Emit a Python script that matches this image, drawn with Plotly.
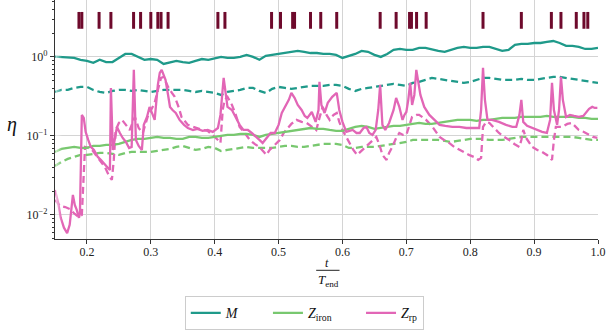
import plotly.graph_objects as go

# ---------------- data ----------------
t_grid = [round(0.15 + 0.01 * i, 2) for i in range(86)]

M_full = [1.01, 1.00, 1.00, 0.97, 0.92, 0.89, 0.84, 0.92, 0.86, 0.86,
          0.97, 1.09, 1.09, 1.00, 0.92, 0.94, 0.92, 0.815, 0.86, 0.89,
          0.86, 0.84, 0.89, 0.94, 0.92, 0.97, 1.00, 0.97, 0.97, 1.00,
          1.06, 1.00, 0.92, 1.03, 1.06, 1.09, 1.12, 1.16, 1.19, 1.16,
          1.12, 1.12, 1.09, 1.09, 1.06, 0.97, 1.03, 1.09, 1.19, 1.16,
          1.06, 1.00, 1.09, 1.23, 1.26, 1.23, 1.23, 1.30, 1.30, 1.23,
          1.19, 1.16, 1.23, 1.30, 1.34, 1.30, 1.30, 1.34, 1.34, 1.26,
          1.19, 1.23, 1.42, 1.46, 1.46, 1.50, 1.50, 1.55, 1.59, 1.50,
          1.38, 1.38, 1.34, 1.26, 1.26, 1.30]

M_dash = [0.360, 0.382, 0.382, 0.405, 0.417, 0.417, 0.382, 0.360, 0.350, 0.371,
          0.382, 0.382, 0.371, 0.382, 0.371, 0.360, 0.371, 0.382, 0.382, 0.382,
          0.382, 0.371, 0.360, 0.371, 0.360, 0.350, 0.330, 0.360, 0.371, 0.382,
          0.405, 0.405, 0.371, 0.350, 0.394, 0.417, 0.405, 0.394, 0.405, 0.417,
          0.430, 0.430, 0.430, 0.442, 0.442, 0.430, 0.394, 0.371, 0.394, 0.405,
          0.417, 0.430, 0.442, 0.455, 0.442, 0.430, 0.469, 0.483, 0.512, 0.542,
          0.527, 0.512, 0.497, 0.483, 0.469, 0.483, 0.512, 0.542, 0.542, 0.527,
          0.512, 0.512, 0.512, 0.527, 0.512, 0.512, 0.527, 0.542, 0.558, 0.558,
          0.542, 0.527, 0.512, 0.497, 0.483, 0.469]

Zfe_full = [0.0627, 0.0685, 0.0705, 0.0726, 0.0705, 0.0705, 0.0747, 0.0747, 0.0769, 0.0769,
            0.0792, 0.0839, 0.0890, 0.0916, 0.0916, 0.0943, 0.0971, 0.0943, 0.0943, 0.0916,
            0.0916, 0.0971, 0.0971, 0.0943, 0.0943, 0.0971, 0.100, 0.103, 0.103, 0.106,
            0.106, 0.103, 0.0971, 0.103, 0.106, 0.109, 0.112, 0.116, 0.119, 0.123,
            0.126, 0.123, 0.123, 0.119, 0.116, 0.116, 0.123, 0.130, 0.134, 0.130,
            0.123, 0.126, 0.130, 0.134, 0.134, 0.138, 0.142, 0.146, 0.142, 0.142,
            0.146, 0.150, 0.155, 0.160, 0.160, 0.160, 0.155, 0.160, 0.160, 0.164,
            0.169, 0.169, 0.169, 0.174, 0.174, 0.174, 0.174, 0.179, 0.174, 0.174,
            0.174, 0.174, 0.169, 0.169, 0.164, 0.164]

Zfe_dash = [0.0417, 0.0469, 0.0512, 0.0542, 0.0575, 0.0575, 0.0592, 0.0609, 0.0609, 0.0592,
            0.0575, 0.0609, 0.0627, 0.0627, 0.0627, 0.0627, 0.0646, 0.0665, 0.0685, 0.0726,
            0.0747, 0.0705, 0.0665, 0.0685, 0.0726, 0.0705, 0.0646, 0.0665, 0.0685, 0.0705,
            0.0726, 0.0705, 0.0705, 0.0705, 0.0705, 0.0726, 0.0747, 0.0747, 0.0726, 0.0726,
            0.0747, 0.0769, 0.0792, 0.0792, 0.0792, 0.0769, 0.0705, 0.0705, 0.0726, 0.0726,
            0.0726, 0.0747, 0.0769, 0.0792, 0.0815, 0.0839, 0.0890, 0.0890, 0.0890, 0.0890,
            0.0890, 0.0864, 0.0839, 0.0864, 0.0890, 0.0916, 0.0916, 0.0916, 0.0890, 0.0890,
            0.0890, 0.0916, 0.0943, 0.0971, 0.0971, 0.0971, 0.0971, 0.0971, 0.0971, 0.0971,
            0.0971, 0.0971, 0.0943, 0.0916, 0.0890, 0.0890]

Zrp_full_t = [0.150, 0.155, 0.159, 0.164, 0.169, 0.173, 0.178, 0.181, 0.184, 0.1875,
              0.189, 0.1906, 0.192, 0.195, 0.198, 0.202, 0.206, 0.211, 0.217, 0.222,
              0.228, 0.233, 0.236, 0.2375, 0.2406, 0.2438, 0.247, 0.2516, 0.256, 0.261,
              0.266, 0.270, 0.2734, 0.2766, 0.281, 0.286, 0.289, 0.294, 0.298, 0.303,
              0.306, 0.311, 0.314, 0.317, 0.320, 0.323, 0.327, 0.330, 0.334, 0.339,
              0.345, 0.352, 0.358, 0.366, 0.373, 0.381, 0.389, 0.397, 0.405, 0.409,
              0.414, 0.417, 0.420, 0.427, 0.433, 0.439, 0.445, 0.452, 0.458, 0.464,
              0.470, 0.475, 0.481, 0.4875, 0.494, 0.500, 0.505, 0.509, 0.516, 0.520,
              0.525, 0.530, 0.536, 0.541, 0.545, 0.552, 0.558, 0.5625, 0.564, 0.567,
              0.572, 0.577, 0.584, 0.591, 0.595, 0.600, 0.606, 0.611, 0.616, 0.622,
              0.627, 0.633, 0.6375, 0.642, 0.647, 0.652, 0.656, 0.659, 0.6625, 0.667,
              0.673, 0.680, 0.684, 0.689, 0.694, 0.697, 0.700, 0.703, 0.706, 0.709,
              0.7125, 0.7156, 0.719, 0.722, 0.728, 0.736, 0.744, 0.752, 0.761, 0.772,
              0.783, 0.794, 0.805, 0.814, 0.817, 0.820, 0.823, 0.827, 0.834, 0.845,
              0.856, 0.866, 0.872, 0.877, 0.880, 0.883, 0.889, 0.897, 0.905, 0.9125,
              0.920, 0.925, 0.928, 0.931, 0.936, 0.939, 0.942, 0.945, 0.950, 0.956,
              0.9625, 0.970, 0.977, 0.981, 0.986, 0.991, 0.995, 0.999]
Zrp_full = [0.0207, 0.0142, 0.0092, 0.0069, 0.0059, 0.0075, 0.0179, 0.0134, 0.0116, 0.0092,
            0.0103, 0.119, 0.1845, 0.169, 0.1124, 0.089, 0.0726, 0.0665, 0.0542, 0.0497,
            0.043, 0.0394, 0.0371, 0.405, 0.0665, 0.089, 0.130, 0.109, 0.0943, 0.0839,
            0.0705, 0.0726, 0.685, 0.089, 0.0747, 0.0665, 0.138, 0.174, 0.233, 0.1845,
            0.1595, 0.442, 0.627, 0.685, 0.592, 0.512, 0.330, 0.233, 0.213, 0.195,
            0.1595, 0.138, 0.126, 0.119, 0.1227, 0.1157, 0.119, 0.1124, 0.126, 0.1845,
            0.542, 0.330, 0.233, 0.213, 0.174, 0.138, 0.119, 0.119, 0.109, 0.0971,
            0.089, 0.0815, 0.0943, 0.109, 0.109, 0.138, 0.195, 0.226, 0.286, 0.350,
            0.303, 0.247, 0.213, 0.179, 0.169, 0.201, 0.1505, 0.213, 0.483, 0.247,
            0.195, 0.262, 0.312, 0.350, 0.213, 0.1505, 0.1124, 0.1157, 0.119, 0.109,
            0.109, 0.126, 0.130, 0.109, 0.103, 0.119, 0.213, 0.442, 0.138, 0.119,
            0.146, 0.213, 0.303, 0.233, 0.1595, 0.1845, 0.201, 0.286, 0.469, 0.247,
            0.330, 0.685, 0.442, 0.330, 0.233, 0.1845, 0.1595, 0.138, 0.134, 0.130,
            0.130, 0.126, 0.126, 0.126, 0.213, 0.726, 0.286, 0.1595, 0.1595, 0.1505,
            0.138, 0.130, 0.130, 0.1845, 0.286, 0.1505, 0.134, 0.126, 0.119, 0.1124,
            0.109, 0.1595, 0.469, 0.213, 0.138, 0.213, 0.558, 0.286, 0.174, 0.1845,
            0.179, 0.174, 0.179, 0.195, 0.220, 0.233, 0.226, 0.226]

Zrp_dash_t = [0.150, 0.158, 0.166, 0.173, 0.181, 0.1875, 0.192, 0.194, 0.197, 0.202,
              0.208, 0.214, 0.220, 0.228, 0.234, 0.239, 0.242, 0.245, 0.250, 0.255,
              0.261, 0.267, 0.275, 0.281, 0.2875, 0.295, 0.302, 0.306, 0.311, 0.316,
              0.320, 0.323, 0.327, 0.333, 0.3375, 0.344, 0.348, 0.358, 0.366, 0.373,
              0.381, 0.389, 0.395, 0.400, 0.405, 0.409, 0.4125, 0.4156, 0.420, 0.427,
              0.433, 0.439, 0.447, 0.455, 0.4625, 0.470, 0.477, 0.481, 0.486, 0.491,
              0.497, 0.502, 0.508, 0.5125, 0.520, 0.528, 0.536, 0.544, 0.552, 0.559,
              0.564, 0.569, 0.575, 0.580, 0.586, 0.591, 0.595, 0.600, 0.606, 0.611,
              0.617, 0.623, 0.631, 0.6375, 0.642, 0.648, 0.653, 0.658, 0.6625, 0.669,
              0.673, 0.678, 0.684, 0.689, 0.695, 0.700, 0.705, 0.709, 0.716, 0.720,
              0.727, 0.731, 0.741, 0.752, 0.759, 0.767, 0.775, 0.783, 0.791, 0.798,
              0.806, 0.8125, 0.817, 0.820, 0.825, 0.830, 0.8375, 0.845, 0.853, 0.861,
              0.869, 0.877, 0.880, 0.883, 0.8875, 0.897, 0.905, 0.9125, 0.920, 0.928,
              0.931, 0.934, 0.944, 0.952, 0.959, 0.966, 0.970, 0.978, 0.986, 0.992,
              0.999]
Zrp_dash = [0.0155, 0.0130, 0.0126, 0.0119, 0.0103, 0.0094, 0.0100, 0.0207, 0.0726, 0.0705,
            0.0665, 0.0575, 0.0497, 0.0405, 0.0321, 0.0277, 0.0497, 0.119, 0.146, 0.1595,
            0.138, 0.119, 0.174, 0.126, 0.109, 0.174, 0.226, 0.262, 0.382, 0.542,
            0.558, 0.483, 0.417, 0.350, 0.312, 0.226, 0.174, 0.138, 0.130, 0.126,
            0.119, 0.1157, 0.106, 0.0971, 0.089, 0.0815, 0.213, 0.286, 0.312, 0.247,
            0.1845, 0.130, 0.109, 0.089, 0.0792, 0.0726, 0.0627, 0.0575, 0.0665, 0.0726,
            0.0815, 0.089, 0.109, 0.119, 0.142, 0.1595, 0.1505, 0.146, 0.130, 0.119,
            0.169, 0.233, 0.1845, 0.1595, 0.1845, 0.195, 0.1505, 0.119, 0.0971, 0.0815,
            0.0665, 0.0575, 0.0665, 0.0747, 0.0815, 0.089, 0.0971, 0.0769, 0.0575, 0.0497,
            0.0609, 0.0726, 0.0943, 0.109, 0.103, 0.103, 0.138, 0.174, 0.1845, 0.1845,
            0.169, 0.1595, 0.130, 0.0971, 0.089, 0.0815, 0.0726, 0.0665, 0.0609, 0.0575,
            0.0542, 0.0497, 0.0527, 0.130, 0.1505, 0.146, 0.126, 0.109, 0.0971, 0.089,
            0.0792, 0.0726, 0.089, 0.119, 0.0943, 0.0726, 0.0665, 0.0627, 0.0575, 0.0497,
            0.089, 0.130, 0.130, 0.142, 0.146, 0.130, 0.119, 0.1124, 0.103, 0.0971,
            0.0943]

event_t = [0.1875, 0.192, 0.219, 0.2375, 0.273, 0.284, 0.300, 0.311, 0.316, 0.327,
           0.405, 0.416, 0.489, 0.503, 0.522, 0.525, 0.550, 0.566, 0.591, 0.659,
           0.684, 0.705, 0.708, 0.716, 0.731, 0.820, 0.880, 0.927, 0.942, 0.966,
           0.978, 0.984]
event_level = 2.9

x_ticks = [0.2, 0.3, 0.4, 0.5, 0.6, 0.7, 0.8, 0.9, 1.0]
x_ticklabels = ["0.2", "0.3", "0.4", "0.5", "0.6", "0.7", "0.8", "0.9", "1.0"]
y_ticks = [0.01, 0.1, 1.0]
y_ticklabels = ["10<sup>\u22122</sup>", "10<sup>\u22121</sup>", "10<sup>0</sup>"]
y_minor = [m * 10.0 ** e for e in (-3, -2, -1, 0) for m in range(2, 10)]

# ---------------- style ----------------
TEAL = "#1f9a8a"
GREEN = "#78c86f"
PINK = "#e266b6"
MAROON = "#6e0a2c"
FONT = "Liberation Serif, Times New Roman, serif"
LW = 2.3
DASH = "7px,4px"
SP = "\u00a0" * 7

fig = go.Figure()

def line(x, y, color, dash, name, show):
    fig.add_trace(go.Scatter(x=x, y=y, mode="lines", name=name, showlegend=show,
                             line=dict(color=color, width=LW, dash=dash)))

line(t_grid, M_dash, TEAL, DASH, "M_d", False)
line(t_grid, Zfe_dash, GREEN, DASH, "Zfe_d", False)
line(Zrp_dash_t, Zrp_dash, PINK, DASH, "Zrp_d", False)
line(t_grid, M_full, TEAL, "solid", "<i>M</i>" + SP, True)
line(t_grid, Zfe_full, GREEN, "solid", "<i>Z</i><sub>iron</sub>" + SP, True)
line(Zrp_full_t, Zrp_full, PINK, "solid", "<i>Z</i><sub>rp</sub>", True)

fig.add_trace(go.Scatter(x=event_t, y=[event_level] * len(event_t), mode="markers",
                         showlegend=False,
                         marker=dict(symbol="line-ns", size=12,
                                     line=dict(color=MAROON, width=3))))

fig.update_xaxes(range=[0.15, 1.0], tickvals=x_ticks, ticktext=x_ticklabels,
                 automargin=False, ticklabelstandoff=-3,
                 showgrid=True, gridcolor="#d4d4d4", gridwidth=1,
                 showline=True, linecolor="#333333", linewidth=1.2,
                 ticks="outside", ticklen=4, tickcolor="#333333",
                 tickfont=dict(family=FONT, size=12, color="#222"),
                 zeroline=False)
fig.update_yaxes(type="log", range=[-2.304, 0.72], tickvals=y_ticks, ticktext=y_ticklabels,
                 automargin=False,
                 showgrid=True, gridcolor="#d4d4d4", gridwidth=1,
                 showline=True, linecolor="#333333", linewidth=1.2,
                 ticks="outside", ticklen=4, tickcolor="#333333",
                 tickfont=dict(family=FONT, size=12, color="#222"),
                 minor=dict(tickvals=y_minor, ticks="outside", ticklen=2,
                            tickcolor="#333333", showgrid=False),
                 zeroline=False)

# soft fade of the curves at the left edge
for x0, x1, op in [(0.1510, 0.1540, 0.55), (0.1540, 0.1570, 0.35), (0.1570, 0.1600, 0.15)]:
    fig.add_shape(type="rect", xref="x", yref="paper", x0=x0, x1=x1, y0=0.03, y1=0.85,
                  fillcolor="white", opacity=op, line=dict(width=0), layer="above")

fig.add_annotation(text="<i>\u03b7</i>", xref="paper", yref="paper", x=-0.08, y=0.48,
                   xanchor="center", yanchor="middle",
                   showarrow=False, font=dict(family=FONT, size=20, color="#111"))
fig.add_annotation(text="<i>t</i>", xref="paper", yref="paper", x=0.501, y=-0.102,
                   xanchor="center", yanchor="middle",
                   showarrow=False, font=dict(family=FONT, size=12, color="#111"))
fig.add_annotation(text="<i>T</i><sub>end</sub>", xref="paper", yref="paper", x=0.503, y=-0.172,
                   xanchor="center", yanchor="middle",
                   showarrow=False, font=dict(family=FONT, size=13, color="#111"))
fig.add_shape(type="line", xref="paper", yref="paper", x0=0.481, x1=0.524, y0=-0.131, y1=-0.131,
              line=dict(color="#222", width=1))

fig.update_layout(
    width=606, height=332,
    margin=dict(l=55, r=8, t=0, b=93, autoexpand=False),
    plot_bgcolor="white", paper_bgcolor="white",
    font=dict(family=FONT, size=13, color="#111"),
    legend=dict(orientation="h", x=0.239, xanchor="left", y=-0.24, yanchor="top",
                bordercolor="#cccccc", borderwidth=1, bgcolor="white",
                font=dict(family=FONT, size=14), itemwidth=30,
                tracegroupgap=0),
)

fig.write_html("out.html", config={"displayModeBar": False},
               post_script="document.body.style.margin='0';document.body.style.padding='0';"
                           "document.documentElement.style.overflow='hidden';")
